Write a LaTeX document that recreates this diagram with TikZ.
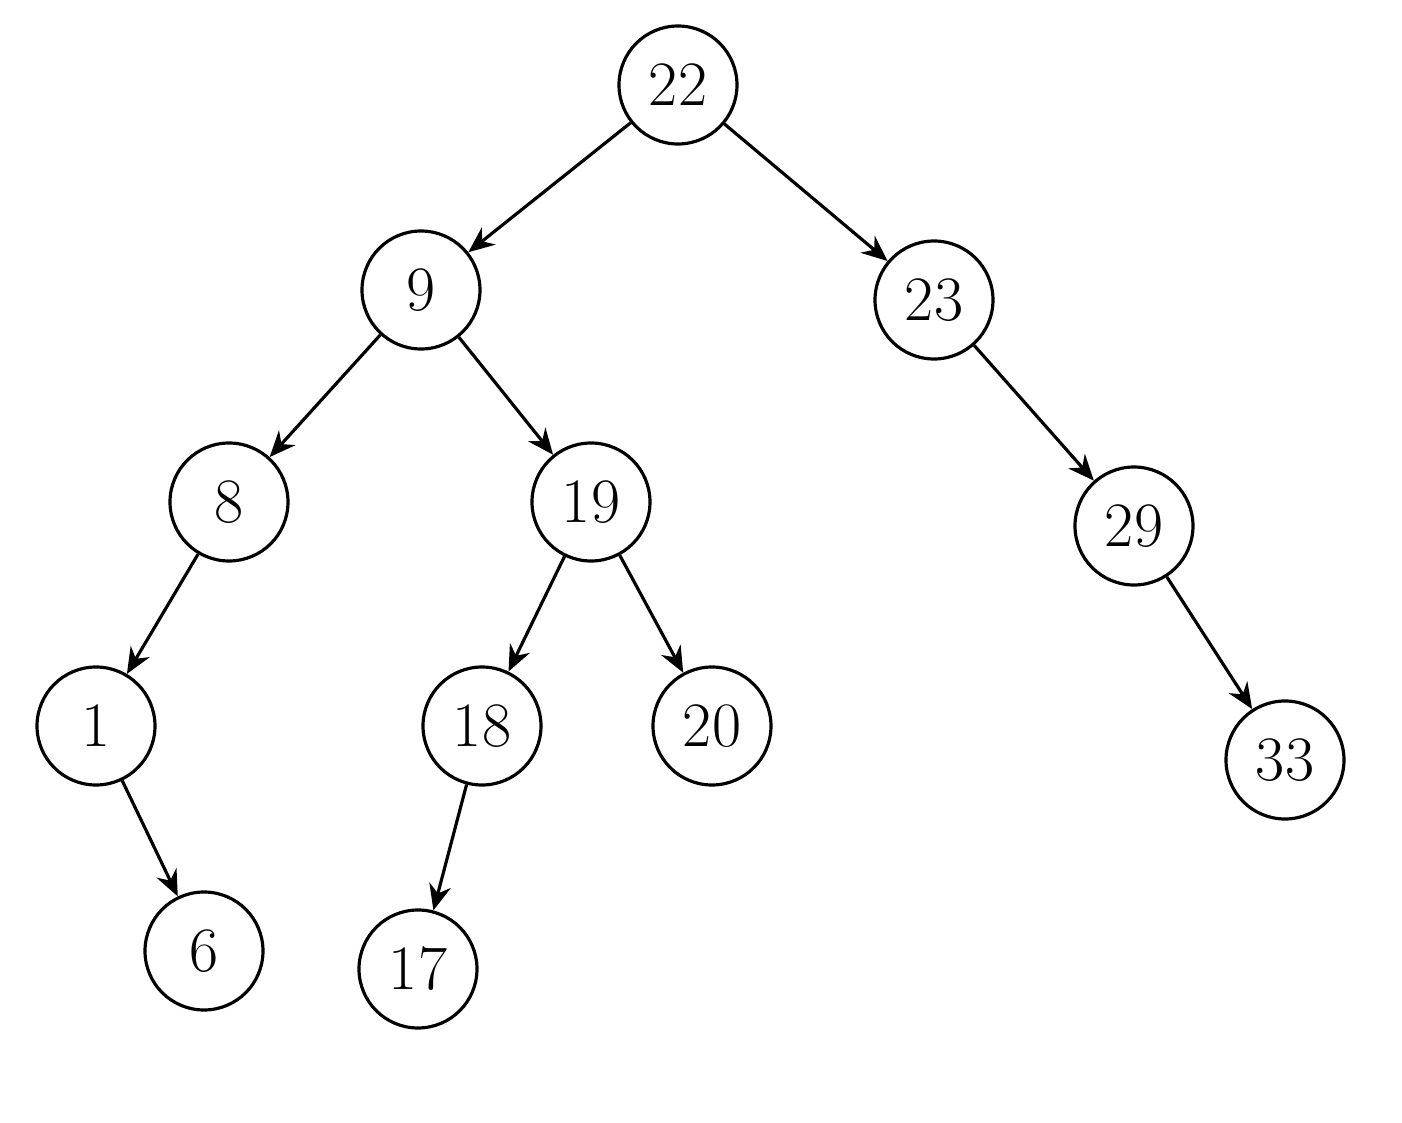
\documentclass[tikz,border=0pt]{standalone}
\usepackage{tikz}
\usetikzlibrary{arrows.meta}

\begin{document}
\begin{tikzpicture}[treenode/.style={circle, draw=black, line width=0.9pt, minimum size=11.8mm, inner sep=0pt, font=\fontsize{18}{20}\selectfont}, edge/.style={-{Stealth[length=2.6mm,width=2.2mm]}, line width=0.9pt}]
\useasboundingbox (0,0) rectangle (14.02,11.22);

\node[treenode] (n22) at (6.78, 10.37) {22};
\node[treenode] (n9) at (4.21, 8.32) {9};
\node[treenode] (n23) at (9.34, 8.22) {23};
\node[treenode] (n8) at (2.29, 6.20) {8};
\node[treenode] (n19) at (5.91, 6.20) {19};
\node[treenode] (n29) at (11.34, 5.96) {29};
\node[treenode] (n1) at (0.96, 3.96) {1};
\node[treenode] (n18) at (4.82, 3.96) {18};
\node[treenode] (n20) at (7.12, 3.96) {20};
\node[treenode] (n33) at (12.85, 3.62) {33};
\node[treenode] (n6) at (2.04, 1.71) {6};
\node[treenode] (n17) at (4.18, 1.53) {17};

\draw[edge] (n22) -- (n9);
\draw[edge] (n22) -- (n23);
\draw[edge] (n9) -- (n8);
\draw[edge] (n9) -- (n19);
\draw[edge] (n23) -- (n29);
\draw[edge] (n8) -- (n1);
\draw[edge] (n19) -- (n18);
\draw[edge] (n19) -- (n20);
\draw[edge] (n29) -- (n33);
\draw[edge] (n1) -- (n6);
\draw[edge] (n18) -- (n17);

\end{tikzpicture}
\end{document}
